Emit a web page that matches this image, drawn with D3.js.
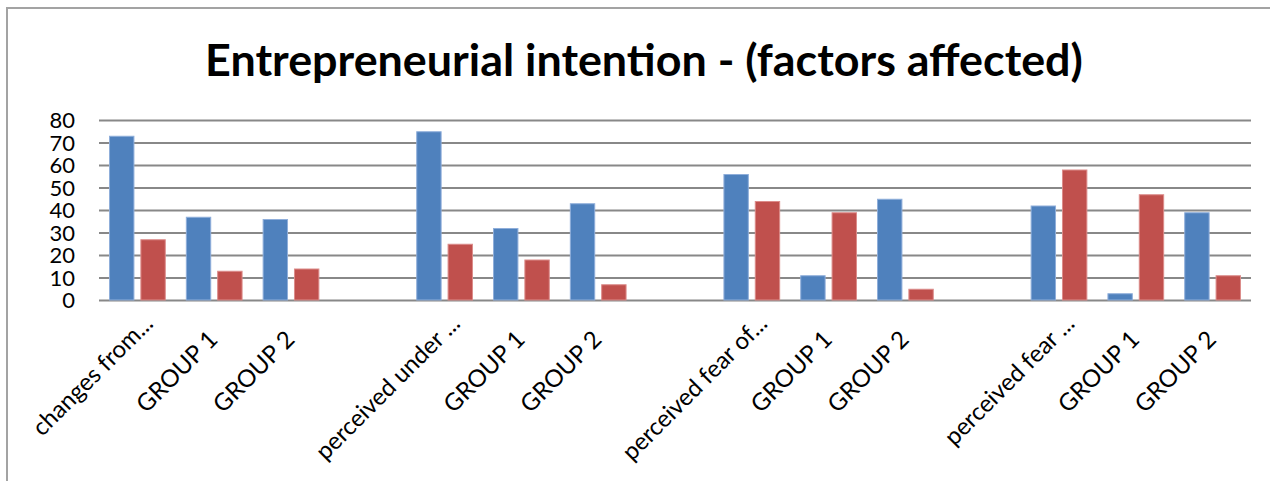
<!DOCTYPE html>
<html>
<head>
<meta charset="utf-8">
<script src="https://cdn.jsdelivr.net/npm/d3@7"></script>
<style>
  html, body { margin: 0; padding: 0; background: #ffffff; }
  svg { display: block; }
  text { font-family: Lato, "Open Sans", "Liberation Sans", sans-serif; fill: #000; }
</style>
</head>
<body>
<svg id="chart" width="1270" height="481"></svg>
<script>
// Category labels along the x axis (blank slots separate the four blocks)
const categories = [
  "changes from...", "GROUP 1", "GROUP 2", "",
  "perceived under ...", "GROUP 1", "GROUP 2", "",
  "perceived fear of...", "GROUP 1", "GROUP 2", "",
  "perceived fear ...", "GROUP 1", "GROUP 2"
];
// First series (blue) and second series (red); null = empty slot
const seriesA = [73, 37, 36, null, 75, 32, 43, null, 56, 11, 45, null, 42, 3, 39];
const seriesB = [27, 13, 14, null, 25, 18, 7, null, 44, 39, 5, null, 58, 47, 11];
const seriesNames = ["A", "B"];
const seriesColors = ["#4F81BD", "#C0504D"];
const seriesEdges = ["#8FAEDA", "#DC8C8A"];
const yTicks = [0, 10, 20, 30, 40, 50, 60, 70, 80];
const titleText = "Entrepreneurial intention - (factors affected)";

const svg = d3.select("#chart");

// Outer chart frame (continues past the right and bottom edges)
svg.append("rect")
  .attr("x", 7).attr("y", 8)
  .attr("width", 1400).attr("height", 600)
  .attr("fill", "#fff")
  .attr("stroke", "#a3a3a3").attr("stroke-width", 2);

const plot = { left: 99, right: 1251, top: 120, bottom: 300 };

const x = d3.scaleBand()
  .domain(d3.range(categories.length))
  .range([plot.left, plot.right])
  .paddingInner(0).paddingOuter(0);

const xs = d3.scaleBand()
  .domain(seriesNames)
  .range([0, x.bandwidth()])
  .paddingInner(0.19)
  .paddingOuter(0.32);

const y = d3.scaleLinear().domain([0, 80]).range([plot.bottom, plot.top]);

// Horizontal gridlines and value labels via a left axis
const yAxis = d3.axisLeft(y)
  .tickValues(yTicks)
  .tickSize(-(plot.right - plot.left))
  .tickPadding(24)
  .tickFormat(d3.format("d"));

const gy = svg.append("g")
  .attr("transform", `translate(${plot.left},0)`)
  .call(yAxis);
gy.select(".domain").remove();
gy.selectAll(".tick line")
  .attr("stroke", "#888888").attr("stroke-width", 2);
gy.selectAll(".tick text")
  .style("font-size", "22px")
  .attr("dy", "0.36em");

// Bars
const rows = categories.map((c, i) => ({ i, values: [seriesA[i], seriesB[i]] }));
const groups = svg.append("g").selectAll("g")
  .data(rows)
  .join("g")
  .attr("transform", d => `translate(${x(d.i)},0)`);

groups.selectAll("rect")
  .data(d => d.values.map((v, k) => ({ v, k })).filter(e => e.v != null))
  .join("rect")
  .attr("x", e => xs(seriesNames[e.k]) + 0.5)
  .attr("y", e => y(e.v) + 0.5)
  .attr("width", xs.bandwidth() - 1)
  .attr("height", e => y(0) - y(e.v) - 0.5)
  .attr("fill", e => seriesColors[e.k])
  .attr("stroke", e => seriesEdges[e.k])
  .attr("stroke-width", 1);

// Rotated category labels
svg.append("g").selectAll("text")
  .data(categories.map((c, i) => ({ c, i })).filter(d => d.c !== ""))
  .join("text")
  .attr("text-anchor", "end")
  .style("font-size", "24px")
  .attr("transform", d => {
    const cx = x(d.i) + x.bandwidth() / 2;
    const long = d.c.indexOf("...") >= 0;
    const ax = cx + (long ? 17 : 5);
    const ay = long ? 325 : 341;
    return `translate(${ax},${ay}) rotate(-45)`;
  })
  .text(d => d.c);

// Title, sized to its span across the frame
const title = svg.append("text")
  .attr("x", 644).attr("y", 76)
  .attr("text-anchor", "middle")
  .style("font-weight", "bold")
  .style("font-size", "40px")
  .text(titleText);
const w = title.node().getComputedTextLength();
title.style("font-size", (40 * 878 / w).toFixed(2) + "px");
</script>
</body>
</html>
